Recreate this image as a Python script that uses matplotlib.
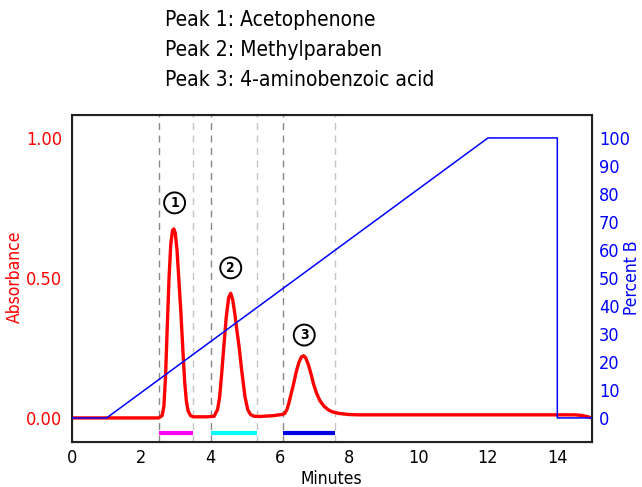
import matplotlib
matplotlib.use("Agg")
import matplotlib.pyplot as plt

# condensed sans, close to the reference lettering
plt.rcParams['font.family'] = ['DejaVu Sans']
plt.rcParams['font.stretch'] = 'condensed'

# chromatogram trace (minutes, absorbance)
trace_t = [0.0, 1.0, 2.0, 2.50, 2.60, 2.65, 2.70, 2.75, 2.80, 2.85, 2.90, 2.94, 2.98, 3.03,
           3.08, 3.14, 3.20, 3.25, 3.30, 3.35, 3.42, 3.50, 3.90, 4.10, 4.20, 4.26, 4.32,
           4.38, 4.45, 4.52, 4.58, 4.64, 4.70, 4.76, 4.82, 4.90, 4.99, 5.07, 5.15, 5.25,
           5.40, 5.80, 6.05, 6.14, 6.20, 6.25, 6.32, 6.39, 6.47, 6.55, 6.62, 6.68, 6.74,
           6.82, 6.90, 6.97, 7.05, 7.15, 7.26, 7.38, 7.50, 7.70, 8.00, 8.30, 9.0, 10.0,
           11.0, 12.0, 13.0, 14.0, 14.5, 14.7, 14.85, 15.0]
trace_a = [0.0, 0.0, 0.0, 0.0, 0.008, 0.04, 0.15, 0.33, 0.50, 0.62, 0.67, 0.675, 0.66, 0.60,
           0.50, 0.38, 0.24, 0.13, 0.06, 0.025, 0.008, 0.004, 0.004, 0.006, 0.03, 0.075, 0.16,
           0.255, 0.36, 0.43, 0.445, 0.42, 0.37, 0.31, 0.255, 0.165, 0.076, 0.03, 0.012, 0.006,
           0.005, 0.008, 0.012, 0.016, 0.03, 0.05, 0.085, 0.12, 0.165, 0.20, 0.218, 0.222, 0.215,
           0.19, 0.155, 0.12, 0.09, 0.062, 0.043, 0.03, 0.022, 0.016, 0.012, 0.011, 0.011, 0.011,
           0.011, 0.011, 0.011, 0.011, 0.011, 0.009, 0.005, 0.0]

# gradient program (minutes, percent B)
grad_t = [0, 1, 12, 14, 14, 15]
grad_b = [0, 0, 100, 100, 0, 0]

# fraction windows (start, end) and bar colours
windows = [(2.52, 3.50), (4.00, 5.34), (6.08, 7.59)]
win_colors = ['#ff00ff', '#00ffff', '#0000e6']

# peak labels (minutes, absorbance of the circle)
peak_labels = ['1', '2', '3']
label_t = [2.96, 4.58, 6.70]
label_a = [0.768, 0.536, 0.296]

title_lines = ['Peak 1: Acetophenone', 'Peak 2: Methylparaben', 'Peak 3: 4-aminobenzoic acid']

fig = plt.figure(figsize=(6.42, 4.87), dpi=100)
ax = fig.add_axes([0.1121, 0.0924, 0.81, 0.6715])
ax2 = ax.twinx()

for (t0, t1), c in zip(windows, win_colors):
    ax.axvline(t0, color='#888888', lw=1, ls=(0, (5, 4)), zorder=1)
    ax.axvline(t1, color='#c4c4c4', lw=1, ls=(0, (5, 4)), zorder=1)
    ax.plot([t0, t1], [-0.054, -0.054], color=c, lw=3, solid_capstyle='butt', zorder=2)

ax.plot(trace_t, trace_a, color='red', lw=2.4, zorder=4)
ax2.plot(grad_t, grad_b, color='#0000ff', lw=1.1, zorder=3)

for lab, t, a in zip(peak_labels, label_t, label_a):
    ax.text(t, a, lab, ha='center', va='center', fontsize=10, fontweight='bold',
            bbox=dict(boxstyle='circle,pad=0.25', fc='white', ec='black', lw=1.4), zorder=5)

ax.set_xlim(0, 15)
ax.set_ylim(-0.086, 1.082)
ax2.set_ylim(-8.6, 108.2)

ax.set_xticks([0, 2, 4, 6, 8, 10, 12, 14])
ax.set_yticks([0, 0.5, 1.0])
ax.set_yticklabels(['0.00', '0.50', '1.00'])
ax2.set_yticks(range(0, 101, 10))

ax.tick_params(axis='x', length=0, pad=5, labelsize=13)
ax.tick_params(axis='y', length=0, pad=7, labelsize=13, labelcolor='red')
ax2.tick_params(axis='y', length=0, pad=5, labelsize=13, labelcolor='blue')

for sp in ax2.spines.values():
    sp.set_linewidth(1.5)
    sp.set_color('#222222')

fig.text(331 / 642, 1 - 479 / 487, 'Minutes', fontsize=12.5, ha='center', va='center')
fig.text(15 / 642, 1 - 277 / 487, 'Absorbance', fontsize=12.5, color='red',
         rotation=90, ha='center', va='center')
fig.text(632 / 642, 1 - 278 / 487, 'Percent B', fontsize=12.5, color='blue',
         rotation=90, ha='center', va='center')

for i, line in enumerate(title_lines):
    fig.text(165 / 642, 1 - (10 + 30 * i) / 487, line, fontsize=15, va='top', ha='left')

fig.savefig('out.png', dpi=100)
